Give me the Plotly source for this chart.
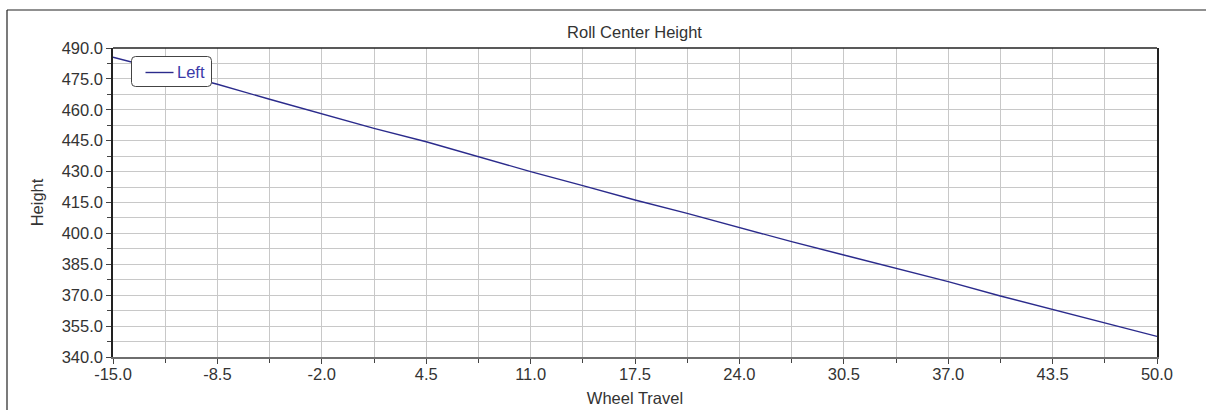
import plotly.graph_objects as go

# ---- data ----
wheel_travel = [-15.0, -11.75, -8.5, -5.25, -2.0, 1.25, 4.5, 7.75, 11.0, 14.25,
                17.5, 20.75, 24.0, 27.25, 30.5, 33.75, 37.0, 40.25, 43.5, 46.75, 50.0]
height_left = [485.5, 479.0, 472.4, 465.1, 458.0, 451.0, 444.5, 437.2, 430.0, 423.2,
               416.2, 409.7, 402.8, 396.0, 389.5, 383.1, 376.6, 369.6, 363.1, 356.7, 350.0]
series_name = "Left"

x_tick_vals = [-15.0, -8.5, -2.0, 4.5, 11.0, 17.5, 24.0, 30.5, 37.0, 43.5, 50.0]
x_tick_text = ["-15.0", "-8.5", "-2.0", "4.5", "11.0", "17.5", "24.0", "30.5", "37.0", "43.5", "50.0"]
y_tick_vals = [340, 355, 370, 385, 400, 415, 430, 445, 460, 475, 490]
y_tick_text = ["340.0", "355.0", "370.0", "385.0", "400.0", "415.0", "430.0",
               "445.0", "460.0", "475.0", "490.0"]

FONT = "Liberation Sans, Arial, sans-serif"
TXT = "#333333"
GRID = "#c8c8c8"
LINE_COLOR = "#2b2b8c"

W, H = 1206, 410
ML, MR, MT, MB = 113, 49, 48, 53
PW, PH = W - ML - MR, H - MT - MB


def px(xp):
    """pixel x -> paper x"""
    return (xp - ML) / PW


def py(yp):
    """pixel y -> paper y"""
    return 1 - (yp - MT) / PH


fig = go.Figure()
fig.add_trace(go.Scatter(
    x=wheel_travel, y=height_left, mode="lines", name=series_name,
    line=dict(color=LINE_COLOR, width=1.4), showlegend=False,
))

# legend box (rounded) drawn as a shape, entry as a line + real text
lx0, lx1, ly0, ly1, r = 131.5, 211.5, 56.5, 86.5, 4
legend_path = (
    f"M{px(lx0 + r)},{py(ly0)} L{px(lx1 - r)},{py(ly0)} "
    f"Q{px(lx1)},{py(ly0)} {px(lx1)},{py(ly0 + r)} "
    f"L{px(lx1)},{py(ly1 - r)} Q{px(lx1)},{py(ly1)} {px(lx1 - r)},{py(ly1)} "
    f"L{px(lx0 + r)},{py(ly1)} Q{px(lx0)},{py(ly1)} {px(lx0)},{py(ly1 - r)} "
    f"L{px(lx0)},{py(ly0 + r)} Q{px(lx0)},{py(ly0)} {px(lx0 + r)},{py(ly0)} Z"
)

fig.update_layout(
    width=W, height=H,
    margin=dict(l=ML, r=MR, t=MT, b=MB, autoexpand=False),
    paper_bgcolor="white", plot_bgcolor="white",
    font=dict(family=FONT, size=16.5, color=TXT),
    title=dict(text="Roll Center Height", x=634.5 / W, xanchor="center",
               y=1 - 32 / H, yanchor="middle",
               font=dict(family=FONT, size=16.5, color=TXT)),
    showlegend=False,
    xaxis=dict(
        range=[-15, 50], tickmode="array", tickvals=x_tick_vals, ticktext=x_tick_text,
        showgrid=True, gridcolor=GRID, gridwidth=1, zeroline=False,
        showline=True, linecolor="#6e6e6e", linewidth=2,
        ticks="outside", ticklen=5, tickcolor="#444444", tickwidth=1,
        ticklabelstandoff=-4,
        tickfont=dict(family=FONT, size=16.5, color=TXT),
        minor=dict(tickmode="linear", tick0=-15, dtick=3.25, showgrid=True,
                   gridcolor=GRID, gridwidth=1, ticks="outside", ticklen=4,
                   tickcolor="#444444"),
        title=dict(text="Wheel Travel", standoff=11,
                   font=dict(family=FONT, size=16.5, color=TXT)),
        automargin=False, fixedrange=True,
    ),
    yaxis=dict(
        range=[340, 490], tickmode="array", tickvals=y_tick_vals, ticktext=y_tick_text,
        showgrid=True, gridcolor=GRID, gridwidth=1, zeroline=False,
        showline=True, linecolor="#222222", linewidth=1.5, mirror=True,
        ticks="outside", ticklen=5, tickcolor="#444444", tickwidth=1,
        tickfont=dict(family=FONT, size=16.5, color=TXT),
        minor=dict(tickmode="linear", tick0=340, dtick=7.5, showgrid=True,
                   gridcolor=GRID, gridwidth=1, ticks="outside", ticklen=4,
                   tickcolor="#444444"),
        title=dict(text="Height", standoff=14,
                   font=dict(family=FONT, size=16.5, color=TXT)),
        automargin=False, fixedrange=True,
    ),
    shapes=[
        # top border of plot area
        dict(type="line", xref="paper", yref="paper", x0=0, x1=1, y0=1, y1=1,
             line=dict(color="#222222", width=1.5), layer="above"),
        # outer chart frame (left and top edges)
        dict(type="line", xref="paper", yref="paper",
             x0=px(7), x1=px(7), y0=py(10), y1=py(430),
             line=dict(color="#222222", width=1.2)),
        dict(type="line", xref="paper", yref="paper",
             x0=px(7), x1=px(1230), y0=py(10), y1=py(10),
             line=dict(color="#222222", width=1.2)),
        # legend box
        dict(type="path", xref="paper", yref="paper", path=legend_path,
             fillcolor="white", line=dict(color="#444444", width=1), layer="above"),
        # legend line sample
        dict(type="line", xref="paper", yref="paper",
             x0=px(145.5), x1=px(173.5), y0=py(72.5), y1=py(72.5),
             line=dict(color=LINE_COLOR, width=1.4), layer="above"),
    ],
    annotations=[
        dict(text=series_name, xref="paper", yref="paper", x=px(174.5), y=py(72),
             xanchor="left", yanchor="middle", showarrow=False,
             font=dict(family=FONT, size=16.5, color="#3a3aa8")),
    ],
)

fig.write_html("out.html")
